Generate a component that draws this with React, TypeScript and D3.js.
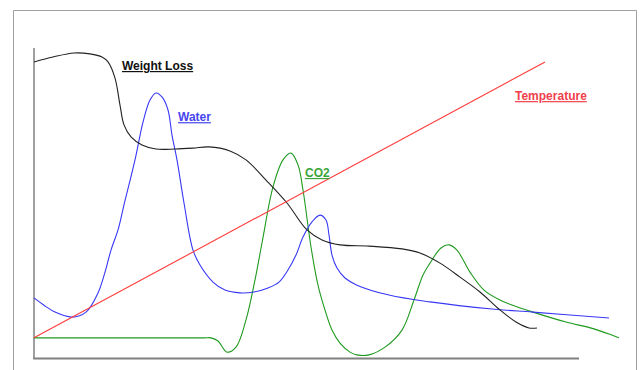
import React from "react";
import * as d3 from "d3";

// [x, y] in chart units (x: 0..545 along the time axis, y: 0..100 signal)
const weightLoss: [number, number][] = [
  [0, 95.5], [19, 97.1], [40, 98.4], [56, 98.1], [68, 97.1], [74, 95.5], [81, 90.3],
  [86, 81.6], [90, 75.2], [97, 71.3], [108, 68.7], [122, 67.4], [141, 67.4], [159, 67.7],
  [175, 68.1], [196, 66.8], [212, 63.9], [232, 57.4], [253, 50], [273, 41.3], [288, 38.1],
  [306, 36.5], [335, 36.1], [368, 35.2], [386, 33.9], [406, 30.6], [426, 26.1], [446, 21.3],
  [466, 15.5], [482, 11.6], [495, 9.7], [503, 9.7],
];

const water: [number, number][] = [
  [0, 19.4], [11, 16.8], [21, 14.8], [38, 13.2], [52, 14.8], [64, 21], [71, 27.7],
  [77, 34.8], [84, 41.3], [90, 49.4], [101, 63.9], [109, 76.1], [116, 83.2], [122, 85.5],
  [128, 84.2], [134, 80], [138, 71.9], [143, 63.9], [150, 50], [159, 34.8], [166, 30],
  [179, 24.5], [191, 21.9], [206, 21], [220, 21.3], [234, 22.6], [245, 24.5], [254, 28.4],
  [262, 33.2], [269, 39], [278, 43.9], [286, 46.1], [292, 44.5], [295, 39.7], [298, 33.2],
  [303, 29], [311, 25.8], [323, 23.5], [355, 20.3], [396, 18.1], [458, 15.8], [499, 14.8],
  [575, 12.9],
];

const co2: [number, number][] = [
  [0, 6.5], [60, 6.5], [120, 6.5], [170, 6.5], [177, 6.5], [184, 5.5], [193, 1.9], [202, 3.5], [212, 12.3], [221, 25.2],
  [228, 37.1], [239, 55.2], [249, 63.9], [257, 66.1], [264, 62.3], [269, 54.2], [277, 35.8],
  [284, 23.5], [290, 16.5], [298, 9], [306, 4.8], [316, 1.9], [323, 1], [335, 1], [351, 3.5],
  [368, 9], [380, 18.7], [389, 26.8], [396, 30.6], [407, 35.5], [415, 36.5], [423, 34.8],
  [436, 27.7], [450, 21.9], [466, 18.7], [478, 17.1], [499, 14.8], [532, 11.6], [560, 9.4],
  [585, 6.5],
];

const temperature: [number, number][] = [
  [0, 6.5], [511, 95.5],
];

const labelNames = ["Weight Loss", "Water", "Temperature", "CO2"];
const labelX = [88, 144, 481, 271];
const labelY = [92.9, 76.4, 83.2, 58.4];
const labelColors = ["#111111", "#4646ee", "#f0404c", "#3aa63a"];

export default function App() {
  const W = 640, H = 370;
  const x = d3.scaleLinear().domain([0, 545]).range([34, 579]);
  const y = d3.scaleLinear().domain([0, 100]).range([358, 48]);

  const line = d3
    .line<[number, number]>()
    .x((d) => x(d[0]))
    .y((d) => y(d[1]))
    .curve(d3.curveCatmullRom.alpha(0.5));
  const straight = d3
    .line<[number, number]>()
    .x((d) => x(d[0]))
    .y((d) => y(d[1]));

  const series = [
    { data: co2, color: "#1f9a1f", curve: line },
    { data: water, color: "#3838f6", curve: line },
    { data: weightLoss, color: "#222222", curve: line },
    { data: temperature, color: "#ff3a3a", curve: straight },
  ];

  return (
    <svg
      width={W}
      height={H}
      style={{ position: "absolute", left: 0, top: 0, background: "#fff" }}
    >
      <rect x={0} y={0} width={W} height={H} fill="#fff" />
      {/* frame */}
      <path d={`M13.5,${H + 5}V10.5H636.5V${H + 5}`} fill="none" stroke="#a0a0a0" strokeWidth={1} />
      {/* axes */}
      <line x1={x(0)} x2={x(0)} y1={y(100)} y2={y(0) + 1} stroke="#808080" strokeWidth={1.5} />
      <line x1={x(0) - 0.75} x2={x(545)} y1={y(0) + 0.5} y2={y(0) + 0.5} stroke="#808080" strokeWidth={2} />
      {series.map((s, i) => (
        <path
          key={i}
          d={s.curve(s.data) || ""}
          fill="none"
          stroke={s.color}
          strokeWidth={1.1}
          strokeLinejoin="round"
        />
      ))}
      {labelNames.map((t, i) => (
        <text
          key={t}
          x={x(labelX[i])}
          y={y(labelY[i])}
          fill={labelColors[i]}
          fontFamily="'Liberation Sans', Arial, sans-serif"
          fontWeight="bold"
          fontSize={12}
          textDecoration="underline"
        >
          {t}
        </text>
      ))}
    </svg>
  );
}
